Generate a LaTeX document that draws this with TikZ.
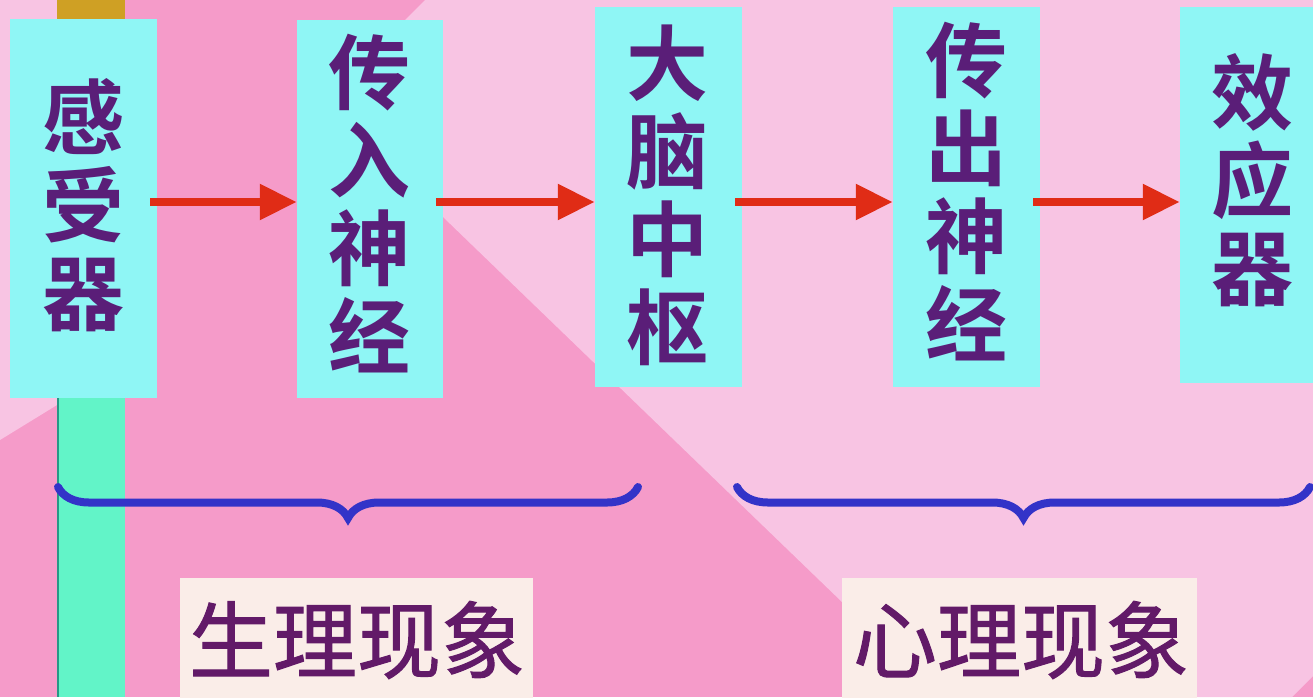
\documentclass[tikz,border=0pt]{standalone}
\usepackage{fontspec}
\newfontfamily\cjkbold{Noto Sans CJK SC Bold}
\newfontfamily\cjk{Noto Sans CJK SC}[FakeBold=1.2]
\usetikzlibrary{arrows.meta,decorations.pathreplacing}
\definecolor{darkpink}{HTML}{F59BC9}
\definecolor{lightpink}{HTML}{F8C4E3}
\definecolor{boxcyan}{HTML}{8FF6F5}
\definecolor{barteal}{HTML}{62F4C8}
\definecolor{bargold}{HTML}{CFA024}
\definecolor{cream}{HTML}{FAEDE8}
\definecolor{txtpurple}{HTML}{5A1E78}
\definecolor{lblpurple}{HTML}{621A68}
\definecolor{arrred}{HTML}{E02C16}
\definecolor{braceblue}{HTML}{3333C8}
\begin{document}
\begin{tikzpicture}[x=1pt,y=-1pt,
  cbox/.style={fill=boxcyan, draw=none, inner sep=0pt, minimum width=147pt, minimum height=380pt},
  boxtext/.style={font=\cjkbold\fontsize{82}{88}\selectfont, text=txtpurple, align=center, inner sep=0pt},
  arr/.style={draw=arrred, line width=8.5pt, shorten <=-7pt, -{Triangle[length=37pt,width=34pt]}},
  brc/.style={draw=braceblue, line width=8pt, line cap=round, decorate, decoration={brace, mirror, amplitude=31pt}},
  lblbox/.style={fill=cream, draw=none, inner sep=0pt, minimum height=130pt},
  lbltext/.style={font=\cjk\fontsize{84}{84}\selectfont, text=lblpurple, inner sep=0pt}]
\useasboundingbox (0,0) rectangle (1313,697);
\clip (0,0) rectangle (1313,697);
% background
\fill[darkpink] (0,0) rectangle (1313,697);
\fill[lightpink] (425,0) -- (1313,0) -- (1313,676) -- (1292,697) -- (842,697) -- (842,602) -- (443,217) -- (323,102) -- cycle;
\fill[lightpink] (0,0) -- (57,0) -- (57,405) -- (0,440) -- cycle;
% vertical bar
\fill[bargold] (57,0) rectangle (125,20);
\fill[barteal] (57,396) rectangle (125,697);
\fill[color=black!30!teal!60!barteal] (57,396) rectangle (59,697);
% boxes
\node[cbox, minimum height=379pt] (b1) at (83.5,208.5) {};
\node[cbox, minimum width=146pt, minimum height=378pt] (b2) at (370,209) {};
\node[cbox] (b3) at (668.5,197) {};
\node[cbox] (b4) at (966.5,197) {};
\node[cbox, minimum width=144pt, minimum height=376pt] (b5) at (1252,195) {};
% box texts
\node[boxtext] (t1) at (83.5,205) {感\\受\\器};
\node[boxtext] (t2) at (369,204) {传\\入\\神\\经};
\node[boxtext] (t3) at (667,195) {大\\脑\\中\\枢};
\node[boxtext] (t4) at (966,192) {传\\出\\神\\经};
\node[boxtext] (t5) at (1252,180) {效\\应\\器};
% arrows
\coordinate (ay) at (0,202);
\draw[arr] (b1.east |- ay) -- (b2.west |- ay);
\draw[arr] (b2.east |- ay) -- (b3.west |- ay);
\draw[arr] (b3.east |- ay) -- (b4.west |- ay);
\draw[arr] (b4.east |- ay) -- (b5.west |- ay);
% braces
\coordinate (br1a) at (58,487);
\coordinate (br1b) at (638,487);
\coordinate (br2a) at (737,487);
\coordinate (br2b) at (1310,487);
\draw[brc] (br1a) -- (br1b);
\draw[brc] (br2a) -- (br2b);
% labels
\node[lblbox, minimum width=353pt, anchor=north west] (l1) at (180,578) {};
\node[lblbox, minimum width=355pt, anchor=north west] (l2) at (842,578) {};
\node[lbltext] (lt1) at (357,640) {生理现象};
\node[lbltext] (lt2) at (1021,640) {心理现象};
\end{tikzpicture}
\end{document}
